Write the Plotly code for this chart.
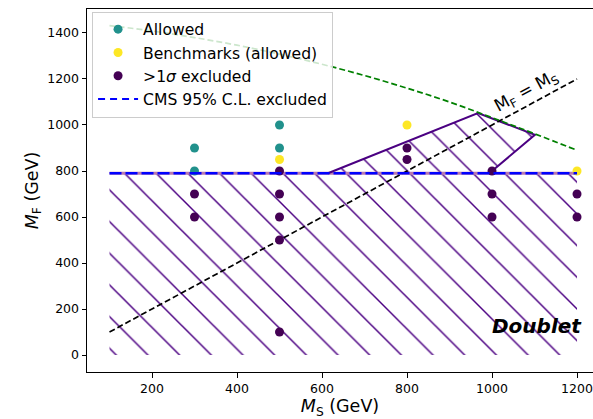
import plotly.graph_objects as go

# ---- data ----
allowed_ms = [300, 300, 500, 500]
allowed_mf = [900, 800, 1000, 900]
bench_ms = [500, 800, 1200]
bench_mf = [850, 1000, 800]
excl_ms = [300, 300, 500, 500, 500, 500, 500, 800, 800, 1000, 1000, 1000, 1200, 1200]
excl_mf = [700, 600, 800, 700, 600, 500, 100, 900, 850, 800, 700, 600, 700, 600]
cms_ms = [100, 1200]
cms_mf = [790, 790]
diag_ms = [100, 1200]
diag_mf = [100, 1200]
green_ms = [100, 200, 300, 400, 500, 600, 700, 800, 900, 1000, 1100, 1200]
green_mf = [1432, 1409, 1380, 1347, 1308, 1264, 1215, 1160, 1100, 1032, 962, 890]
hatch_ms = [100, 100, 614, 967, 1101, 1000, 1000, 1200, 1200]
hatch_mf = [0, 790, 790, 1052, 957, 800, 790, 790, 0]
edge_ms = [614, 967, 1101, 1000]
edge_mf = [790, 1052, 957, 800]
xticks = [200, 400, 600, 800, 1000, 1200]
yticks = [0, 200, 400, 600, 800, 1000, 1200, 1400]

FONT = "DejaVu Sans"
INDIGO = "#4b0082"

fig = go.Figure()

# hatched excluded region
fig.add_trace(go.Scatter(
    x=hatch_ms, y=hatch_mf, mode="lines", fill="toself",
    line=dict(width=0, color="rgba(0,0,0,0)"),
    fillcolor="rgba(0,0,0,0)",
    fillpattern=dict(shape="\\", size=22.4, solidity=0.065, fgcolor=INDIGO,
                     fgopacity=1, bgcolor="rgba(0,0,0,0)", fillmode="overlay"),
    showlegend=False, hoverinfo="skip"))
# boundary along 790
fig.add_trace(go.Scatter(
    x=cms_ms, y=cms_mf, mode="lines",
    line=dict(width=3, color="rgb(185,120,175)"),
    showlegend=False, hoverinfo="skip"))
# top boundary edge
fig.add_trace(go.Scatter(
    x=edge_ms, y=edge_mf, mode="lines",
    line=dict(width=2, color=INDIGO),
    showlegend=False, hoverinfo="skip"))
# diagonal M_F = M_S
fig.add_trace(go.Scatter(
    x=diag_ms, y=diag_mf, mode="lines",
    line=dict(width=1.7, color="black", dash="6px,3px"),
    showlegend=False, hoverinfo="skip"))
# green dashed curve
fig.add_trace(go.Scatter(
    x=green_ms, y=green_mf, mode="lines",
    line=dict(width=1.7, color="#008000", dash="6px,3px", shape="spline"),
    showlegend=False, hoverinfo="skip"))

mk = 9
fig.add_trace(go.Scatter(x=allowed_ms, y=allowed_mf, mode="markers",
                         marker=dict(size=mk, color="#21918c"), name="Allowed",
                         legendgroup="a"))
fig.add_trace(go.Scatter(x=bench_ms, y=bench_mf, mode="markers",
                         marker=dict(size=mk, color="#fde725"), name="Benchmarks (allowed)",
                         legendgroup="b"))
fig.add_trace(go.Scatter(x=excl_ms, y=excl_mf, mode="markers",
                         marker=dict(size=mk, color="#440154"), name=">1<i>σ</i> excluded",
                         legendgroup="c"))
# CMS line
fig.add_trace(go.Scatter(x=cms_ms, y=cms_mf, mode="lines",
                         line=dict(width=2.6, color="blue", dash="12px,4px"),
                         showlegend=False, hoverinfo="skip"))
fig.add_trace(go.Scatter(x=[None], y=[None], mode="lines",
                         line=dict(width=2.2, color="blue", dash="7px,5px"),
                         name="CMS 95% C.L. excluded", legendgroup="d"))

fig.add_annotation(x=1082, y=1145, text="M<sub>F</sub> = M<sub>S</sub>",
                   showarrow=False, textangle=-28.4,
                   font=dict(family=FONT, size=17, color="black"))
fig.add_annotation(x=1106, y=126, text="<b><i>Doublet</i></b>",
                   showarrow=False,
                   font=dict(family=FONT, size=20, color="black"))

fig.update_layout(
    width=593, height=419,
    margin=dict(l=87, r=0, t=9, b=47),
    paper_bgcolor="white", plot_bgcolor="white",
    font=dict(family=FONT, size=12.5, color="black"),
    legend=dict(x=0.01, y=0.993, xanchor="left", yanchor="top",
                bgcolor="rgba(255,255,255,0.8)", bordercolor="#cccccc",
                borderwidth=1, font=dict(family=FONT, size=15.6, color="black"),
                tracegroupgap=0, itemwidth=40),
    xaxis=dict(range=[47.06, 1237.6], tickvals=xticks, showgrid=False, zeroline=False,
               showline=True, linecolor="black", linewidth=1, mirror=True,
               ticks="outside", ticklen=4.5, tickwidth=1, tickcolor="black",
               automargin=False, ticklabeloverflow="allow",
               tickfont=dict(family=FONT, size=12.5, color="black"),
               title=dict(text="<i>M</i><sub>S</sub> (GeV)", standoff=6,
                          font=dict(family=FONT, size=17.5, color="black"))),
    yaxis=dict(range=[-73.9, 1504.3], tickvals=yticks, showgrid=False, zeroline=False,
               showline=True, linecolor="black", linewidth=1,
               ticks="outside", ticklen=4.5, tickwidth=1, tickcolor="black",
               automargin=False,
               tickfont=dict(family=FONT, size=12.5, color="black"),
               title=dict(text="<i>M</i><sub>F</sub> (GeV)", standoff=4,
                          font=dict(family=FONT, size=17.5, color="black"))),
)

fig.write_html("out.html", config={"displayModeBar": False},
               post_script="document.body.style.margin='0';document.body.style.overflow='hidden';")
